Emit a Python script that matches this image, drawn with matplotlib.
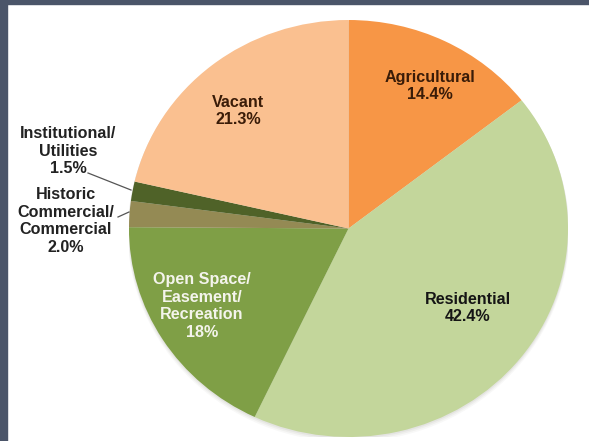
import matplotlib
matplotlib.use('Agg')
from matplotlib import pyplot as plt
from matplotlib.patches import Rectangle, Ellipse

# land use shares, clockwise from 12 o'clock
categories = ['Agricultural', 'Residential', 'Open Space/\nEasement/\nRecreation',
              'Historic\nCommercial/\nCommercial', 'Institutional/\nUtilities', 'Vacant']
shares = [14.4, 42.4, 18, 2.0, 1.5, 21.3]
decimals = [1, 1, 0, 1, 1, 1]

colors = ['#f79646', '#c3d69b', '#7f9f46', '#948a54', '#4f6228', '#fac090']
text_colors = ['#3a1c08', '#151515', '#f4f4ec', '#222222', '#222222', '#3a1c08']

W, H = 589, 441
plt.rcParams['font.family'] = ['Liberation Sans', 'DejaVu Sans']

fig = plt.figure(figsize=(W / 100, H / 100), dpi=100)
fig.patch.set_facecolor('white')

# dark frame on the left and top edges
frame_col = '#4b5569'
fig.patches.append(Rectangle((0, 0), 7 / W, 1, transform=fig.transFigure, color=frame_col, zorder=0))
fig.patches.append(Rectangle((0, 1 - 4 / H), 1, 4 / H, transform=fig.transFigure, color=frame_col, zorder=0))

# pie box in pixels: x 129..568, y 20..437 (slightly wider than tall)
px0, px1, py0, py1 = 129, 568, 20, 437
pie_ax = fig.add_axes([px0 / W, 1 - py1 / H, (px1 - px0) / W, (py1 - py0) / H])

# soft drop shadow under the pie
for k, a in [(3.0, 0.06), (2.0, 0.08), (1.0, 0.10)]:
    pie_ax.add_patch(Ellipse((0, -k * 0.006), 2 + k * 0.004, 2 + k * 0.004,
                             color='#8a8a80', alpha=a, lw=0, zorder=0))

wedges, _ = pie_ax.pie(shares, colors=colors, startangle=90, counterclock=False,
                       radius=1, wedgeprops=dict(linewidth=0))
pie_ax.set_aspect('auto')
pie_ax.set_xlim(-1, 1)
pie_ax.set_ylim(-1, 1)
pie_ax.axis('off')

# overlay in pixel coordinates for the labels
ax = fig.add_axes([0, 0, 1, 1])
ax.set_xlim(0, W)
ax.set_ylim(H, 0)
ax.axis('off')

label_pos = [(430, 86), (468, 308), (202, 306), (66, 221), (68, 151), (238, 111)]
for name, v, d, (x, y), tc in zip(categories, shares, decimals, label_pos, text_colors):
    txt = name + '\n' + f'{v:.{d}f}%'
    ax.text(x, y, txt, ha='center', va='center', fontsize=11.6, fontweight='bold',
            color=tc, linespacing=1.2)

# leader lines for the two thin slices
ax.plot([88, 131], [173, 190], color='#555555', lw=0.9)
ax.plot([118, 129], [217, 212], color='#555555', lw=0.9)

fig.savefig('out.png', dpi=100)
